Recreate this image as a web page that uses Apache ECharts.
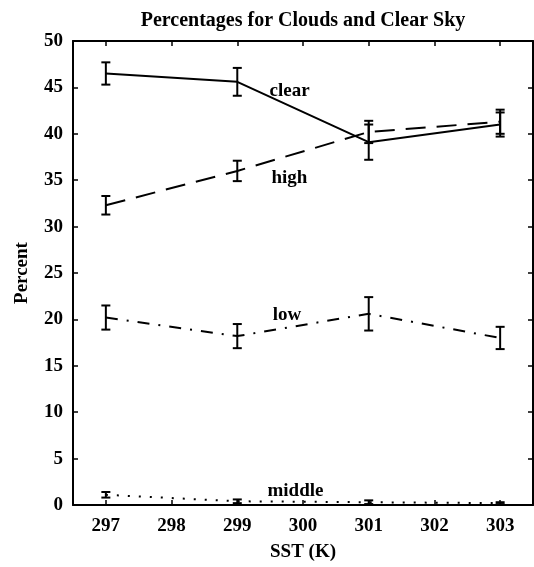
<!DOCTYPE html>
<html>
<head>
<meta charset="utf-8">
<script src="https://cdn.jsdelivr.net/npm/echarts@6/dist/echarts.min.js"></script>
<style>
  html, body { margin: 0; padding: 0; background: #fff; }
  #chart { width: 534px; height: 567px; }
</style>
</head>
<body>
<div id="chart"></div>
<script>
// Sea surface temperature (K)
const sst = [297, 299, 301, 303];
const xTicks = [297, 298, 299, 300, 301, 302, 303];
const yTicks = [0, 5, 10, 15, 20, 25, 30, 35, 40, 45, 50];

// Mean percentages
const clearPct  = [46.5, 45.6, 39.1, 41.0];
const highPct   = [32.3, 36.0, 40.2, 41.3];
const lowPct    = [20.2, 18.2, 20.6, 18.0];
const middlePct = [1.1, 0.4, 0.3, 0.2];

// Error bar half-widths
const clearErr  = [1.2, 1.5, 1.9, 1.3];
const highErr   = [1.0, 1.1, 1.2, 1.3];
const lowErr    = [1.3, 1.3, 1.8, 1.2];
const middleErr = [0.3, 0.2, 0.2, 0.1];

// Curve names written next to each line
const curveNames = ['clear', 'high', 'low', 'middle'];
const curveNameAt = [[299.49, 44.6], [299.52, 35.2], [299.54, 20.45], [299.46, 1.5]];

const font = 'Liberation Serif, Times New Roman, serif';
const textStyle = { fontFamily: font, fontSize: 19, fontWeight: 'bold', color: '#000' };

function lineSeries(name, values, dash) {
  return {
    type: 'line',
    name: name,
    data: sst.map((x, i) => [x, values[i]]),
    symbol: 'none',
    silent: true,
    lineStyle: { color: '#000', width: 2, type: dash },
    z: 3
  };
}

// Vertical error bars with short caps
function errorSeries(values, errs) {
  return {
    type: 'custom',
    silent: true,
    data: sst.map((x, i) => [x, values[i] - errs[i], values[i] + errs[i]]),
    renderItem: function (params, api) {
      const lo = api.coord([api.value(0), api.value(1)]);
      const hi = api.coord([api.value(0), api.value(2)]);
      const w = 4.5;
      const st = { stroke: '#000', lineWidth: 2 };
      return {
        type: 'group',
        children: [
          { type: 'line', shape: { x1: lo[0], y1: lo[1], x2: hi[0], y2: hi[1] }, style: st },
          { type: 'line', shape: { x1: lo[0] - w, y1: lo[1], x2: lo[0] + w, y2: lo[1] }, style: st },
          { type: 'line', shape: { x1: hi[0] - w, y1: hi[1], x2: hi[0] + w, y2: hi[1] }, style: st }
        ]
      };
    },
    z: 4
  };
}

const chart = echarts.init(document.getElementById('chart'), null, { renderer: 'canvas' });

const axisCommon = {
  type: 'value',
  splitLine: { show: false },
  axisLine: { show: true, onZero: false, lineStyle: { color: '#000', width: 2 } },
  axisTick: { show: true, inside: true, length: 5, lineStyle: { color: '#000', width: 1.5 } }
};

chart.setOption({
  animation: false,
  backgroundColor: '#fff',
  title: {
    text: 'Percentages for Clouds and Clear Sky',
    left: 298,
    top: 6,
    textAlign: 'center',
    textStyle: Object.assign({}, textStyle, { fontSize: 20 })
  },
  grid: { left: 73, right: 1, top: 41, bottom: 59, containLabel: false },
  xAxis: [
    Object.assign({}, axisCommon, {
      position: 'bottom',
      min: 296.5, max: 303.5,
      name: 'SST (K)',
      nameLocation: 'middle',
      nameGap: 38,
      nameTextStyle: textStyle,
      axisTick: Object.assign({}, axisCommon.axisTick, { customValues: xTicks }),
      axisLabel: Object.assign({ customValues: xTicks, margin: 12 }, textStyle)
    }),
    Object.assign({}, axisCommon, {
      position: 'top',
      min: 296.5, max: 303.5,
      axisTick: Object.assign({}, axisCommon.axisTick, { customValues: xTicks }),
      axisLabel: { show: false }
    })
  ],
  yAxis: [
    Object.assign({}, axisCommon, {
      position: 'left',
      min: 0, max: 50, interval: 5,
      name: 'Percent',
      nameLocation: 'middle',
      nameGap: 41,
      nameTextStyle: textStyle,
      axisTick: Object.assign({}, axisCommon.axisTick, { customValues: yTicks }),
      axisLabel: Object.assign({ customValues: yTicks, margin: 10 }, textStyle)
    }),
    Object.assign({}, axisCommon, {
      position: 'right',
      min: 0, max: 50, interval: 5,
      axisTick: Object.assign({}, axisCommon.axisTick, { customValues: yTicks }),
      axisLabel: { show: false }
    })
  ],
  series: [
    lineSeries('clear', clearPct, 'solid'),
    lineSeries('high', highPct, [20, 11]),
    lineSeries('low', lowPct, [12, 9, 2, 9]),
    lineSeries('middle', middlePct, [2, 9]),
    errorSeries(clearPct, clearErr),
    errorSeries(highPct, highErr),
    errorSeries(lowPct, lowErr),
    errorSeries(middlePct, middleErr),
    {
      type: 'scatter',
      silent: true,
      symbolSize: 0,
      itemStyle: { opacity: 1 },
      data: curveNames.map((n, i) => ({ name: n, value: curveNameAt[i] })),
      label: Object.assign({
        show: true,
        position: 'right',
        distance: 0,
        opacity: 1,
        formatter: '{b}'
      }, textStyle),
      z: 5
    }
  ]
});
</script>
</body>
</html>
